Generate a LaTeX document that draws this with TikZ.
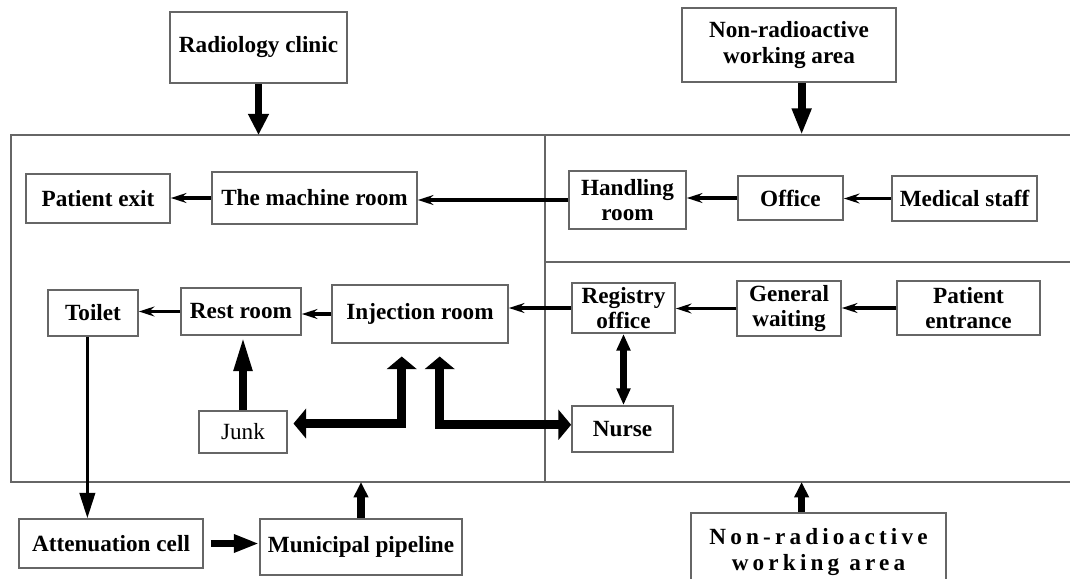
\documentclass[tikz,border=0pt]{standalone}
\usepackage{fontspec}
\setmainfont{Liberation Serif}
\newfontfamily\widefont[LetterSpace=18]{Liberation Serif}
\usetikzlibrary{arrows.meta}

\begin{document}
\begin{tikzpicture}[
      x = 0.025cm, y = -0.025cm,
 room/.style = {draw=black!60, line width=1.2pt, fill=white, inner sep=0pt,
                align=center, font=\bfseries\fontsize{16.5}{18}\selectfont},
frame/.style = {draw=black!60, line width=1.4pt},
 flow/.style = {line width=2.6pt, -{Stealth[length=11pt,width=7pt]}},
  bigflow/.style = {line width=5.5pt, -{Triangle[length=15pt,width=14pt]}},
  twoway/.style = {line width=6.4pt, line join=miter,
                   {Triangle[length=9pt,width=21pt]}-{Triangle[length=9pt,width=21pt]}}
                    ]
\useasboundingbox (0,0) rectangle (1070,578);
\clip (0,0) rectangle (1070,578);
% building outline
\coordinate (tl) at (11,135);   \coordinate (tm) at (545,135);  \coordinate (tr) at (1070,135);
\coordinate (bl) at (11,482);   \coordinate (bm) at (545,482);  \coordinate (br) at (1070,482);
\coordinate (mm) at (545,262);  \coordinate (mr) at (1070,262);
\draw[frame] (tr) -- (tl) -- (bl) -- (br);
\draw[frame] (tm) -- (bm);
\draw[frame] (mm) -- (mr);
% rooms
\node[room, minimum width=4.425cm, minimum height=1.775cm] (radclinic) at (258.5,47.5) {Radiology clinic};
\node[room, minimum width=5.35cm,  minimum height=1.85cm]  (nratop)    at (789,45)      {Non-radioactive\\working area};
\node[room, minimum width=3.6cm,   minimum height=1.225cm] (exit)      at (98,198.5)    {Patient exit};
\node[room, minimum width=5.125cm, minimum height=1.3cm]   (machine)   at (314.5,198)   {The machine room};
\node[room, minimum width=2.925cm, minimum height=1.45cm]  (handling)  at (627.5,200)   {Handling\\room};
\node[room, minimum width=2.625cm, minimum height=1.1cm]   (office)    at (790.5,198)   {Office};
\node[room, minimum width=3.625cm, minimum height=1.125cm] (medstaff)  at (964.5,198.5) {Medical staff};
\node[room, minimum width=2.25cm,  minimum height=1.15cm]  (toilet)    at (93,313)      {Toilet};
\node[room, minimum width=3.0cm,   minimum height=1.175cm] (rest)      at (241,311.5)   {Rest room};
\node[room, minimum width=4.4cm,   minimum height=1.45cm]  (injection) at (420,314)     {Injection room};
\node[room, minimum width=2.575cm, minimum height=1.25cm]  (registry)  at (623.5,308)   {Registry\\office};
\node[room, minimum width=2.6cm,   minimum height=1.375cm] (waiting)   at (789,308.5)   {General\\waiting};
\node[room, minimum width=3.575cm, minimum height=1.35cm]  (entrance)  at (968.5,308)   {Patient\\entrance};
\node[room, minimum width=2.2cm,   minimum height=1.05cm, font=\fontsize{16.5}{18}\selectfont] (junk) at (243,432) {Junk};
\node[room, minimum width=2.525cm, minimum height=1.15cm]  (nurse)     at (622.5,429)   {Nurse};
\node[room, minimum width=4.6cm,   minimum height=1.225cm] (attcell)   at (111,543.5)   {Attenuation cell};
\node[room, minimum width=5.05cm,  minimum height=1.4cm]   (pipeline)  at (361,547)     {Municipal pipeline};
\node[room, minimum width=6.375cm, minimum height=1.95cm,
      font=\bfseries\fontsize{16.5}{18}\widefont] (nrabot) at (818.5,552) {Non-radioactive\\working area};
% arrows into the building
\coordinate (nt) at ([xshift=9pt]nratop.south);
\coordinate (nb) at ([xshift=-12pt]nrabot.north);
\draw[bigflow] (radclinic.south) -- (radclinic.south |- tl);
\draw[bigflow, -{Triangle[length=19pt,width=13pt]}] (nt) -- (nt |- tm);
\draw[bigflow, line width=5pt, -{Triangle[length=11pt,width=10pt]}] (pipeline.north) -- (pipeline.north |- bl);
\draw[bigflow, line width=5pt, -{Triangle[length=11pt,width=10pt]}] (nb) -- (nb |- bm);
% staff and patient flows
\draw[flow] (machine.west) -- (machine.west -| exit.east);
\draw[flow] (handling.west) -- (handling.west -| machine.east);
\draw[flow] (office.west) -- (office.west -| handling.east);
\draw[flow] (medstaff.west) -- (medstaff.west -| office.east);
\draw[flow] (injection.west) -- (injection.west -| rest.east);
\draw[flow] (rest.west) -- (rest.west -| toilet.east);
\draw[flow] (registry.west) -- (registry.west -| injection.east);
\draw[flow] (waiting.west) -- (waiting.west -| registry.east);
\draw[flow] (entrance.west) -- (entrance.west -| waiting.east);
% waste
\coordinate (ts) at ([xshift=-4pt]toilet.south);
\draw[line width=2pt, -{Triangle[length=18pt,width=11pt]}] (ts) -- (ts |- attcell.north);
\draw[bigflow, -{Triangle[length=25pt,width=12pt]}] (junk.north) -- (junk.north |- rest.south);
\draw[bigflow, -{Triangle[length=18pt,width=12pt]}, shorten <=5pt] (attcell.east) -- (attcell.east -| pipeline.west);
% two-way links
\draw[line width=4.3pt, {Triangle[length=12pt,width=9.5pt]}-{Triangle[length=12pt,width=9.5pt]}]
    (registry.south) -- (registry.south |- nurse.north);
\coordinate (ja) at ([xshift=4pt,yshift=6pt]junk.east);
\coordinate (ia) at ([xshift=-13pt,yshift=-9pt]injection.south);
\coordinate (ib) at ([xshift=14pt,yshift=-9pt]injection.south);
\coordinate (na) at ([yshift=3pt]nurse.west);
\draw[twoway] (ja) -| (ia);
\draw[twoway] (ib) |- (na);
\end{tikzpicture}
\end{document}
